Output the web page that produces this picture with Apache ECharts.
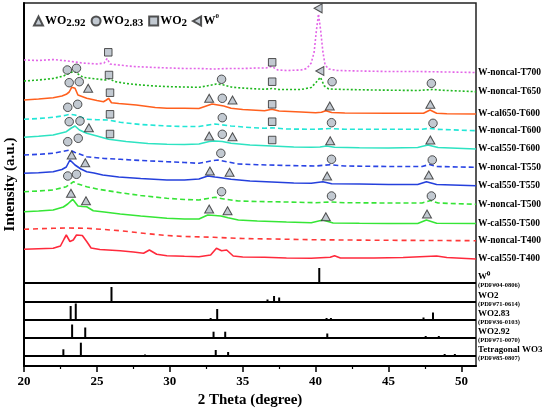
<!DOCTYPE html>
<html><head><meta charset="utf-8">
<script src="https://cdn.jsdelivr.net/npm/echarts@6/dist/echarts.min.js"></script>
<style>html,body{margin:0;padding:0;background:#fff}#c{width:545px;height:412px}</style>
</head><body><div id="c"></div>
<script>
// ---- axes ----
const xMin = 20, xMax = 51;
const yMin = 0, yMax = 363;
const xTickLabels = [20, 25, 30, 35, 40, 45, 50];
const xMinorTicks = [22.5, 27.5, 32.5, 37.5, 42.5, 47.5];

// ---- XRD curves: [2theta, intensity(a.u., offset-stacked)] ----
const curveNames = ['W-noncal-T700','W-noncal-T650','W-cal650-T600','W-noncal-T600','W-cal550-T600','W-noncal-T550','W-cal550-T550','W-noncal-T500','W-cal550-T500','W-noncal-T400','W-cal550-T400'];
const curveColors = ['#e366e8','#1fb81f','#ff601e','#22e6d6','#2ee3c2','#2a44e4','#2540dc','#36e436','#36e636','#ff3838','#ff2a3c'];
const curveDash = [[2,2],[2,2],'solid',[5,3],'solid',[5,3],'solid',[5,3],'solid',[5,4],'solid'];

const cT700 = [[20,306],[21,305.5],[22,306.5],[23,305],[24,303],[25,302],[25.5,303],[25.7,307.5],[25.9,302],[26.5,301],[27.5,299.5],[29,298.5],[30,298],[31,297.5],[32,297.5],[33,297],[34,297.5],[35,297.5],[36,298],[36.6,298],[37,299.5],[37.4,296],[38,295.5],[39,296],[39.4,297.5],[39.7,303],[39.9,314],[40.05,335],[40.2,352],[40.35,335],[40.5,314],[40.65,301],[40.9,297],[41.5,295.5],[43,295],[45,294.5],[47,294.5],[49,294],[51,293.5]];
const cT650 = [[20,285],[21,286],[22,287.5],[22.7,290],[23.2,293.5],[23.45,295],[23.8,291],[24.1,288.5],[25,287],[25.6,286],[25.85,287.5],[26.2,284.5],[27,282.5],[28,281],[29,280],[30,279.3],[31,279],[32,278.7],[32.7,280.5],[33.2,282],[33.7,281],[34.3,278.7],[35.5,277.5],[36.5,276.7],[37,277.5],[37.5,276.5],[39,276.5],[39.7,278.5],[40.05,284],[40.33,288.7],[40.6,280],[40.9,277],[42,276.5],[44,276],[47,275.5],[48,276.5],[49,275.5],[51,274.3]];
const cCal650T600 = [[20,266],[21,267],[22,268.3],[22.6,270],[22.9,271.7],[23.1,274],[23.27,278.7],[23.5,277.7],[23.7,271],[24.3,267.7],[25,265.5],[25.45,264.3],[25.65,266],[25.8,267.7],[26.0,263.3],[26.5,262.5],[27.7,261],[29,258.5],[29.8,257.7],[31,257.7],[32,257.5],[32.6,260.5],[32.9,262],[33.3,261],[33.7,260],[34.2,257.7],[35,256.5],[36.5,255.3],[37,256.7],[37.5,255],[39,254],[40,253.3],[40.4,253.7],[40.7,255.3],[41.1,253.5],[42,253],[45,252.7],[47.4,252.7],[47.85,256],[48.3,252.7],[49,252.3],[51,252]];
const cT600 = [[20,246.7],[21,247.5],[22,248.7],[22.8,250.5],[23.15,251.7],[23.5,251],[24.3,246.7],[25,246.3],[25.8,246],[26.6,243.7],[28,241.5],[29.8,240],[31,239.5],[32,239.5],[33.1,242],[34.2,240],[35.5,238.5],[36.5,237.7],[37,238.2],[38,237],[40,236.7],[41,237.5],[42,236.7],[45,236.7],[47.3,236.7],[47.8,237.7],[48.3,236.7],[51,235.3]];
const cCal550T600 = [[20,228.7],[21,229.7],[22,231],[22.9,234.3],[23.25,238],[23.5,240],[23.8,236],[24.3,232.7],[25,230],[25.8,226.7],[27,224.5],[28.5,222.5],[29.8,221.7],[31,221.5],[32,222],[32.7,224.5],[33.1,225],[33.6,224.5],[34.2,222.7],[35.5,221],[37,220],[38.5,219],[39.7,218.7],[40.3,219],[40.75,220],[41.3,218.7],[43,218.3],[45,218],[47,218.5],[47.7,221],[48.4,218.5],[51,217]];
const cT550 = [[20,211],[21,211.7],[22,212.7],[22.8,215],[23.15,216],[23.5,213.5],[24.3,209.3],[25.5,207.5],[26.6,206.7],[28,205.5],[29.8,204.3],[31,203.5],[32,202.7],[32.8,205],[33.3,206],[34,204],[34.7,202],[36,201.3],[38,200.5],[40,200],[41,201.3],[42,200],[45,199.5],[47.3,199.5],[47.8,201.5],[48.3,199.5],[51,198.7]];
const cCal550T550 = [[20,192.7],[21,193.3],[22,194.3],[22.6,196.5],[22.9,199],[23.15,206],[23.5,201],[23.9,197],[24.3,194.3],[24.8,193],[25.4,191],[26.5,189],[28,187.5],[29.8,186],[31,186],[32,187],[32.6,190],[33.1,189],[33.5,188.3],[34.2,186.7],[35.5,185],[37,184],[38.5,183],[39.7,182.7],[40.5,184.3],[41.1,182.3],[43,182],[45,181.5],[47,181.5],[47.6,184.3],[48.3,181.5],[51,180.3]];
const cT500 = [[20,174.3],[21,175],[22,176],[22.9,179.3],[23.4,184.3],[23.7,182],[24.3,179.3],[25,177],[26.6,173.3],[28,170.5],[29.8,167.7],[31,166.5],[32,166],[32.6,167.5],[33.1,168.7],[33.7,167],[34.7,165],[36,164.5],[38,164],[40,163.3],[41,164],[42,163.3],[45,163],[47.3,163],[47.9,165.5],[48.4,163],[51,161.7]];
const cCal550T500 = [[20,154.3],[21,155],[22,156],[22.7,159],[23.0,162],[23.34,166.7],[23.7,160],[24.0,159.5],[24.3,159.3],[24.75,155.3],[25.5,154],[26.6,152],[28,150],[29.8,147.7],[31,147],[32,147],[32.6,151],[33.1,150.5],[33.5,150],[34,148.3],[34.7,146],[36,145],[38,144],[39.7,143.3],[40.5,146],[41.2,143],[43,142.7],[45,142.5],[47,142.5],[47.6,146],[48.3,142.7],[51,142.5]];
const cT400 = [[20,136.7],[21,137.3],[22,137.7],[23,138],[24.3,137.7],[25.5,136.5],[26.6,135.3],[28,133],[29.8,130.5],[31,129.5],[33,128.7],[35,127.5],[37,127],[39.7,126.3],[42,126],[45,125.7],[48,125.5],[51,125.3]];
const cCal550T400 = [[20,116.7],[21,117.3],[22,117.7],[22.5,120],[22.75,127],[22.9,131],[23.15,124.5],[23.38,126],[23.6,131],[24.0,130.5],[24.3,124.5],[24.6,118],[25.2,116.5],[26.6,115.3],[27.5,114],[28.2,112.7],[28.6,116],[29.1,111.7],[29.8,110.3],[31,109.7],[32,109.3],[32.8,111],[33.2,117.7],[33.55,115.3],[33.9,116],[34.35,110],[35,109],[36.5,108.7],[38,108],[39.7,107.7],[41,108.7],[41.3,110.3],[41.7,108],[44,108],[46,108.5],[48.3,110],[49,108.5],[51,107]];
const curves = [cT700,cT650,cCal650T600,cT600,cCal550T600,cT550,cCal550T550,cT500,cCal550T500,cT400,cCal550T400];

// ---- phase markers [2theta, level] ----
const mWO292 = [[24.4,277.7],[32.7,267.7],[34.3,266],[40.97,260],[47.87,261.7],
  [24.45,238.3],[32.7,230],[34.3,229.3],[41.0,225.3],[47.87,226],
  [23.27,211],[24.2,203.3],[32.75,195],[34.1,193.7],[40.79,190],[47.76,191],
  [23.22,172.7],[24.25,165.3],[32.7,157],[33.96,155.3],[40.7,149.3],[47.64,152]];
const mWO283 = [[22.97,296],[23.6,297.7],[33.55,286.7],[41.13,284.3],[47.94,282.7],
  [23.1,283.3],[23.79,284.3],[33.6,267.7],
  [23.0,258.7],[23.68,261.7],[33.6,248.3],[41.09,243.3],[48.05,242.7],
  [23.1,244.3],[23.84,245],[33.6,231.7],
  [23.0,224.3],[23.72,227.7],[33.5,212.7],[41.09,206.7],[48.0,206],
  [23.0,190],[23.6,191.7],[33.55,174.3],[41.09,170],[47.94,170]];
const mWO2 = [[25.78,313.7],[37.02,303.7],[25.83,291],[37.02,284.3],[25.9,273.3],[37.02,261.7],[25.9,251.7],[37.02,244.3],[25.9,232],[37.02,226]];
const mW0 = [[40.17,357.7],[40.29,295]];

// ---- reference patterns: [2theta, relative height] ----
const refNames = ['W⁰','WO2','WO2.83','WO2.92','Tetragonal WO3'];
const refPDF = ['(PDF#04-0806)','(PDF#71-0614)','(PDF#36-0103)','(PDF#71-0070)','(PDF#85-0807)'];
const refBase = [83, 64, 46, 28, 10];
const pW0 = [[40.25,15]];
const pWO2 = [[26.0,15],[36.7,2.5],[37.15,6],[37.5,4.5]];
const pWO283 = [[22.7,1],[23.2,14],[23.55,16.5],[25.6,1],[27.0,1],[28.6,1],[32.0,1],[32.8,2],[33.25,11],[35.0,1],[36.1,1],[40.75,2],[41.05,2],[43.2,1],[47.4,2.5],[48.05,7.5],[49.75,1]];
const pWO292 = [[21.3,1],[23.3,13.5],[24.2,10.5],[28.6,0.8],[31.6,0.6],[33.0,6.3],[33.8,6.3],[40.8,4.5],[46.4,1],[47.55,2],[48.45,2],[49.4,1]];
const pWO3 = [[22.7,6.7],[23.9,13.3],[28.3,1.5],[33.15,6],[34.0,4],[41.25,1],[45.0,0.6],[46.3,1],[48.85,2],[49.55,2]];
const patterns = [pW0, pWO2, pWO283, pWO292, pWO3];

const FONT = '"Liberation Serif","Times New Roman",serif';
const series = [];

curves.forEach((d, i) => {
  series.push({
    type: 'line', name: curveNames[i], data: d, showSymbol: false, silent: true,
    lineStyle: { color: curveColors[i], width: 1.6, type: curveDash[i] },
    itemStyle: { color: curveColors[i] }, z: 2,
    endLabel: { show: true, formatter: curveNames[i], distance: 2, color: '#000',
      fontFamily: FONT, fontWeight: 'bold', fontSize: 9.5 }
  });
});

patterns.forEach((p, i) => {
  const base = refBase[i];
  series.push({
    type: 'custom', name: 'ref' + i, silent: true, z: 3,
    data: p.map(v => [v[0], v[1], base]),
    encode: { x: 0, y: 2 },
    renderItem: function (params, api) {
      const a = api.coord([api.value(0), api.value(2)]);
      const b = api.coord([api.value(0), api.value(2) + api.value(1)]);
      return { type: 'line', shape: { x1: a[0], y1: a[1], x2: b[0], y2: b[1] },
        style: { stroke: '#000', lineWidth: 2 } };
    }
  });
  series.push({
    type: 'line', name: 'sep' + i, silent: true, showSymbol: false, z: 3,
    data: [[xMin, base], [xMax, base]],
    lineStyle: { color: '#000', width: 2 },
    endLabel: { show: true, distance: 2, offset: [0, -2.5],
      formatter: '{n|' + refNames[i] + '}\n{p|' + refPDF[i] + '}',
      rich: {
        n: { fontFamily: FONT, fontWeight: 'bold', fontSize: 9, lineHeight: 10, color: '#000' },
        p: { fontFamily: FONT, fontWeight: 'bold', fontSize: 6.5, lineHeight: 8, color: '#000' }
      } }
  });
});

const mStyle = { color: '#b3bcc5', borderColor: '#2b2b2b', borderWidth: 1 };
const leftTri = 'path://M0,5L9,0L9,10Z';
series.push({ type: 'scatter', name: 'WO2.92', data: mWO292, symbol: 'triangle', symbolSize: [9, 8], itemStyle: mStyle, z: 5, silent: true });
series.push({ type: 'scatter', name: 'WO2.83', data: mWO283, symbol: 'circle', symbolSize: 8.5, itemStyle: mStyle, z: 5, silent: true });
series.push({ type: 'scatter', name: 'WO2', data: mWO2, symbol: 'rect', symbolSize: 7.5, itemStyle: mStyle, z: 5, silent: true });
series.push({ type: 'scatter', name: 'W0', data: mW0, symbol: leftTri, symbolSize: [8, 9], itemStyle: mStyle, z: 5, silent: true });

const chart = echarts.init(document.getElementById('c'), null, { renderer: 'canvas' });
chart.setOption({
  animation: false,
  backgroundColor: '#fff',
  grid: { left: 24, right: 69, top: 3, bottom: 46, show: true, borderColor: '#222', borderWidth: 1.5,
    containLabel: false, outerBoundsMode: 'none' },
  legend: {
    left: 28, top: 8, itemWidth: 9, itemHeight: 9, itemGap: 5,
    data: [
      { name: 'WO2.92', icon: 'triangle' },
      { name: 'WO2.83', icon: 'circle' },
      { name: 'WO2', icon: 'rect' },
      { name: 'W0', icon: leftTri }
    ],
    formatter: function (n) {
      if (n === 'W0') return '{m|W}{p|0}';
      return '{m|WO}{s|' + n.slice(2) + '}';
    },
    textStyle: {
      fontFamily: FONT, fontWeight: 'bold', color: '#000', fontSize: 12, padding: [0, 0, 0, -3],
      rich: {
        m: { fontFamily: FONT, fontWeight: 'bold', fontSize: 12, lineHeight: 16, verticalAlign: 'middle' },
        s: { fontFamily: FONT, fontWeight: 'bold', fontSize: 11, lineHeight: 16, verticalAlign: 'bottom', padding: [3, 0, 0, 0] },
        p: { fontFamily: FONT, fontWeight: 'bold', fontSize: 7, lineHeight: 16, verticalAlign: 'top' }
      }
    }
  },
  xAxis: [{
    type: 'value', min: xMin, max: xMax, interval: 5, position: 'bottom',
    name: '2 Theta (degree)', nameLocation: 'middle', nameGap: 26,
    nameTextStyle: { fontFamily: FONT, fontWeight: 'bold', fontSize: 15, color: '#000' },
    axisLine: { show: true, lineStyle: { color: '#000', width: 2 } },
    axisTick: { show: true, length: 6, customValues: xTickLabels, lineStyle: { color: '#000', width: 1.5 } },
    axisLabel: { customValues: xTickLabels, fontFamily: FONT, fontWeight: 'bold', fontSize: 13, color: '#000', margin: 9 },
    splitLine: { show: false }
  }, {
    type: 'value', min: xMin, max: xMax, position: 'bottom', offset: 0,
    axisLine: { show: false },
    axisTick: { show: true, length: 3, customValues: xMinorTicks, lineStyle: { color: '#000', width: 1.2 } },
    axisLabel: { show: false }, splitLine: { show: false }
  }],
  yAxis: {
    type: 'value', min: yMin, max: yMax,
    name: 'Intensity (a.u.)', nameLocation: 'middle', nameGap: 6,
    nameTextStyle: { fontFamily: FONT, fontWeight: 'bold', fontSize: 15, color: '#000' },
    axisLine: { show: true, lineStyle: { color: '#000', width: 2 } },
    axisTick: { show: false }, axisLabel: { show: false }, splitLine: { show: false }
  },
  series: series
});
</script>
</body></html>
